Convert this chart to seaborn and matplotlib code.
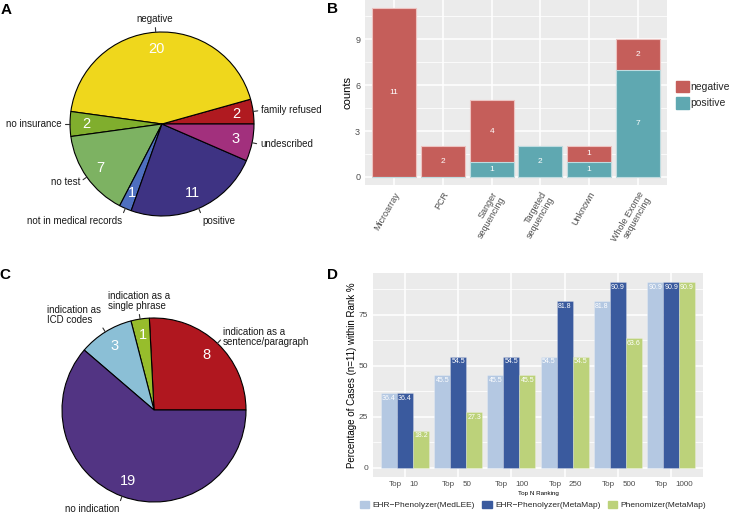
import numpy as np
import pandas as pd
import matplotlib
matplotlib.use("Agg")
import matplotlib.pyplot as plt
from matplotlib.patches import Patch
import seaborn as sns

# ---------------- data ----------------
# Panel A
a_labels = ["family refused", "negative", "no insurance", "no test",
            "not in medical records", "positive", "undescribed"]
a_values = [2, 20, 2, 7, 1, 11, 3]
a_colors = ["#B01A20", "#EFD71C", "#80AE2D", "#7DB262", "#4E6FBF", "#3E3383", "#A2307D"]

# Panel B
b_methods = ["Microarray", "PCR", "Sanger\nsequencing", "Targeted\nsequencing",
             "Unknown", "Whole Exome\nsequencing"]
b_negative = [11, 2, 4, 0, 1, 2]
b_positive = [0, 0, 1, 2, 1, 7]
b_status = ["negative", "positive"]
b_colors = ["#C55E5A", "#5FA8B1"]

# Panel C
c_labels = ["indication as a\nsentence/paragraph", "indication as a\nsingle phrase",
            "indication as\nICD codes", "no indication"]
c_values = [8, 1, 3, 19]
c_colors = ["#B0171F", "#97BD2C", "#8BBFD6", "#523483"]

# Panel D
d_ranks = ["10", "50", "100", "250", "500", "1000"]
d_tools = ["EHR\u2212Phenolyzer(MedLEE)", "EHR\u2212Phenolyzer(MetaMap)", "Phenomizer(MetaMap)"]
d_medlee = [36.4, 45.5, 45.5, 54.5, 81.8, 90.9]
d_metamap = [36.4, 54.5, 54.5, 81.8, 90.9, 90.9]
d_phenomizer = [18.2, 27.3, 45.5, 54.5, 63.6, 90.9]
d_colors = ["#B4C8E2", "#3A5A9E", "#BCD27A"]

# ---------------- style ----------------
sns.set_style("white")
plt.rcParams["font.family"] = ["Liberation Sans", "DejaVu Sans"]

W, H = 729, 514
fig = plt.figure(figsize=(W / 100, H / 100), dpi=100)


def px_axes(x0, y0, x1, y1):
    return fig.add_axes([x0 / W, 1 - y1 / H, (x1 - x0) / W, (y1 - y0) / H])


PANEL_BG = "#EBEBEB"
TICK_COL = "#333333"
LAB_COL = "#4D4D4D"


def gg_axes(ax):
    ax.set_facecolor(PANEL_BG)
    for s in ax.spines.values():
        s.set_visible(False)
    ax.set_axisbelow(True)
    ax.grid(which="major", color="white", lw=1.1)
    ax.grid(which="minor", axis="y", color="white", lw=0.55)
    ax.tick_params(which="major", length=2, width=0.8, color=TICK_COL,
                   labelcolor=LAB_COL, pad=1.5)
    ax.tick_params(which="minor", length=0)


def draw_pie(ax, values, colors, labels, r_val=0.82):
    wedges, _ = ax.pie(values, colors=colors, startangle=0, counterclock=True,
                       radius=1, wedgeprops=dict(edgecolor="black", linewidth=0.8))
    for v, lab, w in zip(values, labels, wedges):
        mid = np.deg2rad((w.theta1 + w.theta2) / 2)
        c, s = np.cos(mid), np.sin(mid)
        ax.plot([c * 1.0, c * 1.05], [s * 1.0, s * 1.05], color="#333333",
                lw=0.8, clip_on=False)
        ha = "left" if c > 0.3 else ("right" if c < -0.3 else "center")
        va = "bottom" if s > 0.8 else ("top" if s < -0.8 else "center")
        ax.text(c * 1.09, s * 1.09, lab, ha=ha, va=va, fontsize=7,
                color="#1A1A1A", multialignment="left", linespacing=1.0)
        ax.text(c * r_val, s * r_val, str(v), ha="center", va="center",
                color="white", fontsize=10.5)
    lim = 100 / 92
    ax.set_xlim(-lim, lim)
    ax.set_ylim(-lim, lim)
    ax.set_aspect("equal")
    ax.axis("off")


# ---------------- Panel A ----------------
axA = px_axes(62, 24, 262, 224)
draw_pie(axA, a_values, a_colors, a_labels)

# ---------------- Panel C ----------------
axC = px_axes(54, 310, 254, 510)
draw_pie(axC, c_values, c_colors, c_labels)

# ---------------- Panel B ----------------
axB = px_axes(365, 0, 667, 185.4)
dfB = pd.DataFrame({"method": b_methods, "negative": b_negative, "positive": b_positive})
dfB["total"] = dfB["negative"] + dfB["positive"]
sns.barplot(data=dfB, x="method", y="total", color=b_colors[0], saturation=1,
            width=0.9, edgecolor="#EDC3C1", linewidth=0.8, ax=axB, zorder=3)
sns.barplot(data=dfB, x="method", y="positive", color=b_colors[1], saturation=1,
            width=0.9, edgecolor="#BFDCE0", linewidth=0.8, ax=axB, zorder=3)
gg_axes(axB)
axB.set_xlim(-0.6, 5.6)
axB.set_ylim(-0.55, 11.55)
axB.set_yticks([0, 3, 6, 9])
axB.set_yticks([1.5, 4.5, 7.5, 10.5], minor=True)
axB.tick_params(axis="y", labelsize=6.5)
axB.set_xticks(range(len(b_methods)))
axB.set_xticklabels(b_methods, rotation=60, ha="right", va="top",
                    rotation_mode="anchor", fontsize=6.5, linespacing=1.0)
axB.set_xlabel("")
axB.set_ylabel("counts", fontsize=8, labelpad=2, color="black")
for i, (n, p) in enumerate(zip(b_negative, b_positive)):
    if p > 0:
        axB.text(i, p / 2, str(p), ha="center", va="center", color="white",
                 fontsize=6, zorder=5)
    if n > 0:
        axB.text(i, p + n / 2, str(n), ha="center", va="center", color="white",
                 fontsize=6, zorder=5)
hB = [Patch(facecolor=c, edgecolor=c, label=l) for c, l in zip(b_colors, b_status)]
axB.legend(handles=hB, loc="center left", bbox_to_anchor=(1.03, 0.49),
           frameon=False, fontsize=7.5, handlelength=1.2, handleheight=1.3,
           handletextpad=0.15, borderaxespad=0, borderpad=0, labelspacing=0.5)

# ---------------- Panel D ----------------
axD = px_axes(373, 273, 703, 477)
rows = []
for tool, vals in zip(d_tools, [d_medlee, d_metamap, d_phenomizer]):
    for r, v in zip(d_ranks, vals):
        rows.append({"rank": r, "tool": tool, "value": v})
dfD = pd.DataFrame(rows)
sns.barplot(data=dfD, x="rank", y="value", hue="tool", hue_order=d_tools,
            order=d_ranks, palette=d_colors, saturation=1, width=0.9,
            edgecolor=(1, 1, 1, 0.25), linewidth=0.6, ax=axD, zorder=3,
            legend=False)
gg_axes(axD)
axD.set_xlim(-0.6, 5.6)
axD.set_ylim(-4.545, 95.445)
axD.set_yticks([0, 25, 50, 75])
axD.set_yticks([12.5, 37.5, 62.5, 87.5], minor=True)
axD.tick_params(axis="y", labelsize=6)
axD.set_xticks(range(len(d_ranks)))
axD.set_xticklabels([""] * len(d_ranks))
axD.set_xlabel("")
axD.set_ylabel("Percentage of Cases (n=11) within Rank %", fontsize=7,
               labelpad=1, color="black")
for i, r in enumerate(d_ranks):
    axD.annotate("Top", xy=(i, 0), xycoords=("data", "axes fraction"),
                 xytext=(-2.2, -5.2), textcoords="offset points", ha="right",
                 va="center", fontsize=5.8, color=LAB_COL)
    axD.annotate(r, xy=(i, 0), xycoords=("data", "axes fraction"),
                 xytext=(3.2, -5.2), textcoords="offset points", ha="left",
                 va="center", fontsize=5.8, color=LAB_COL)
axD.text(0.5, -(494 - 477) / 204, "Top N Ranking", transform=axD.transAxes,
         ha="center", va="center", fontsize=4.5, color="black")
for cont in axD.containers:
    for bar in cont:
        h = bar.get_height()
        axD.annotate(f"{h:.1f}", xy=(bar.get_x() + bar.get_width() / 2, h),
                     xytext=(0, -1.2), textcoords="offset points", ha="center",
                     va="top", fontsize=5, color="white", zorder=6)
hD = [Patch(facecolor=c, edgecolor=c, label=l) for c, l in zip(d_colors, d_tools)]
axD.legend(handles=hD, loc="center", bbox_to_anchor=(0.485, -0.137), ncol=3,
           frameon=False, fontsize=6, handlelength=1.1, handleheight=1.0,
           handletextpad=0.4, columnspacing=0.9, borderaxespad=0, borderpad=0)

# ---------------- panel letters ----------------
for lab, x, y in [("A", 6, 10), ("B", 333, 9), ("C", 5, 275), ("D", 333, 275)]:
    fig.text(x / W, 1 - y / H, lab, ha="center", va="center", fontsize=11,
             fontweight="bold", color="black")

fig.savefig("out.png", dpi=100)
